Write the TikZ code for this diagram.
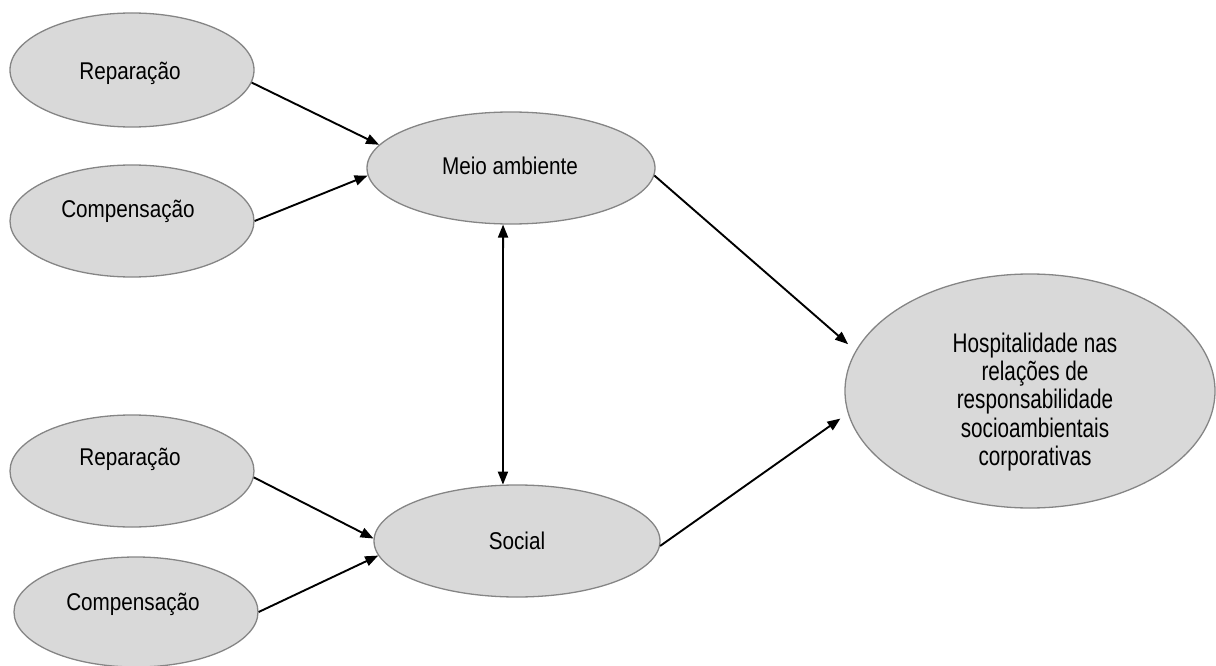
\documentclass[tikz,border=0pt]{standalone}
\usepackage{fontspec}
\setmainfont{Liberation Sans}
\usetikzlibrary{shapes.geometric,arrows.meta}
\definecolor{ovalfill}{HTML}{D9D9D9}
\definecolor{ovalline}{HTML}{858585}
\begin{document}
\begin{tikzpicture}[x=1pt,y=-1pt,
  oval/.style={ellipse, draw=ovalline, fill=ovalfill, line width=1.3pt, inner sep=0pt},
  lbl/.style={font=\fontsize{20.7}{21.8}\selectfont, inner sep=0pt, anchor=base,
    yscale=1.17, transform shape},
  link/.style={line width=1.9pt, -{Triangle[length=13pt,width=10pt]}}]
\useasboundingbox (0,0) rectangle (1216,666);

% ovals
\node[oval, minimum width=244pt, minimum height=114pt] (rep1) at (132,70) {};
\node[oval, minimum width=244pt, minimum height=112pt] (comp1) at (132,221) {};
\node[oval, minimum width=288pt, minimum height=112pt] (meio) at (511,168) {};
\node[oval, minimum width=370pt, minimum height=234pt] (hosp) at (1030,391) {};
\node[oval, minimum width=244pt, minimum height=112pt] (rep2) at (132,471) {};
\node[oval, minimum width=244pt, minimum height=110pt] (comp2) at (136,612) {};
\node[oval, minimum width=286pt, minimum height=112pt] (social) at (517,541) {};

% labels
\node[lbl] (rep1t) at (130,80) {Reparação};
\node[lbl] (comp1t) at (128,217) {Compensação};
\node[lbl] (meiot) at (510,175) {Meio ambiente};
\node[lbl, yscale=1.11, anchor=center, align=center] (hospt) at (1035,402)
  {Hospitalidade nas\\relações de\\responsabilidade\\socioambientais\\corporativas};
\node[lbl] (rep2t) at (130,465) {Reparação};
\node[lbl] (comp2t) at (133,610) {Compensação};
\node[lbl] (socialt) at (517,549) {Social};

% connectors
\draw[link] (rep1.-6) -- (meio.170);
\draw[link] (comp1.0) -- (meio.183);
\draw[link, shorten >=10pt] (meio.-3) -- (hosp.167);
\draw[link, shorten >=9pt] (social.-2) -- (hosp.187);
\draw[link] (rep2.-3) -- (social.179);
\draw[link] (comp2.0) -- (social.186);
\draw[line width=1.9pt, {Triangle[length=13pt,width=10pt]}-{Triangle[length=13pt,width=10pt]}] (meio.262) -- (social.104);
\end{tikzpicture}
\end{document}
